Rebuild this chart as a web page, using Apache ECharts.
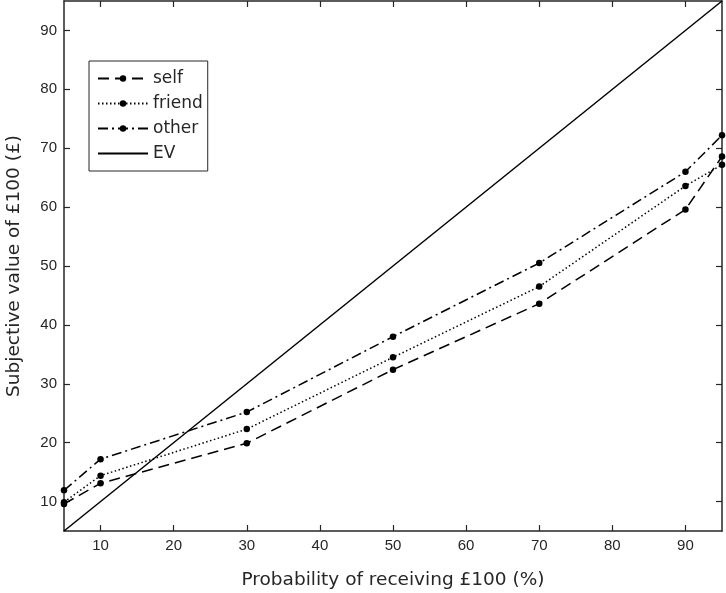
<!DOCTYPE html>
<html>
<head>
<meta charset="utf-8">
<script src="https://cdn.jsdelivr.net/npm/echarts@6/dist/echarts.min.js"></script>
<style>
	html, body { margin: 0; padding: 0; background: #fff; }
	#chart { width: 726px; height: 593px; }
</style>
</head>
<body>
<div id="chart"></div>
<script>
// probabilities (%) and subjective values (£)
var probs = [5, 10, 30, 50, 70, 90, 95];
var selfVals = [9.6, 13.1, 19.9, 32.4, 43.6, 59.6, 68.6];
var friendVals = [9.9, 14.4, 22.3, 34.5, 46.5, 63.6, 67.2];
var otherVals = [11.9, 17.2, 25.2, 38.0, 50.5, 66.0, 72.2];
var evX = [5, 95];
var evY = [5, 95];
var xTicks = [10, 20, 30, 40, 50, 60, 70, 80, 90];
var yTicks = [10, 20, 30, 40, 50, 60, 70, 80, 90];

var pairs = function(xs, ys) {
	var rtn = [];
	xs.forEach(function(x, i) {
		rtn.push([x, ys[i]]);
	});
	return rtn;
};

var ink = '#262626';

var mkAxis = function(pos, ticks, showLabel, name, nameSize) {
	return {
		type: 'value',
		position: pos,
		min: 5,
		max: 95,
		name: name || '',
		nameLocation: 'middle',
		nameGap: 40,
		nameTextStyle: { fontFamily: 'DejaVu Sans', fontSize: nameSize || 17, color: ink },
		splitLine: { show: false },
		axisLine: { show: true, onZero: false, lineStyle: { color: ink, width: 1.5 } },
		axisTick: { show: true, inside: true, length: 6, customValues: ticks, lineStyle: { color: ink, width: 1.2 } },
		axisLabel: { show: showLabel, customValues: ticks, margin: 7, fontFamily: 'Liberation Sans', fontSize: 15, color: ink }
	};
};

var lineSeries = function(name, data, dash) {
	return {
		name: name,
		type: 'line',
		data: data,
		symbol: 'circle',
		symbolSize: 6.5,
		itemStyle: { color: '#000' },
		lineStyle: { color: '#000', width: 1.5, type: dash },
		animation: false
	};
};

var chart = echarts.init(document.getElementById('chart'));
chart.setOption({
	backgroundColor: '#fff',
	animation: false,
	grid: { left: 64, right: 4, top: 1, bottom: 62, containLabel: false, outerBoundsMode: 'none' },
	legend: {
		orient: 'vertical',
		left: 89,
		top: 61,
		padding: [8, 5, 8, 8],
		itemGap: 6,
		itemWidth: 50,
		itemHeight: 8,
		borderColor: ink,
		borderWidth: 1,
		backgroundColor: '#fff',
		textStyle: { fontFamily: 'DejaVu Sans', fontSize: 17, lineHeight: 19, color: ink },
		data: ['self', 'friend', 'other', { name: 'EV', itemStyle: { opacity: 0 } }]
	},
	xAxis: [
		mkAxis('bottom', xTicks, true, 'Probability of receiving £100 (%)', 18.5),
		mkAxis('top', xTicks, false)
	],
	yAxis: [
		mkAxis('left', yTicks, true, 'Subjective value of £100 (£)', 18.5),
		mkAxis('right', yTicks, false)
	],
	series: [
		lineSeries('self', pairs(probs, selfVals), [11, 6]),
		lineSeries('friend', pairs(probs, friendVals), [1.5, 2.5]),
		lineSeries('other', pairs(probs, otherVals), [10, 4, 2, 4]),
		{
			name: 'EV',
			type: 'line',
			data: pairs(evX, evY),
			symbol: 'none',
			itemStyle: { color: '#000' },
			lineStyle: { color: '#000', width: 1.5, type: 'solid' },
			animation: false
		}
	]
});
</script>
</body>
</html>
